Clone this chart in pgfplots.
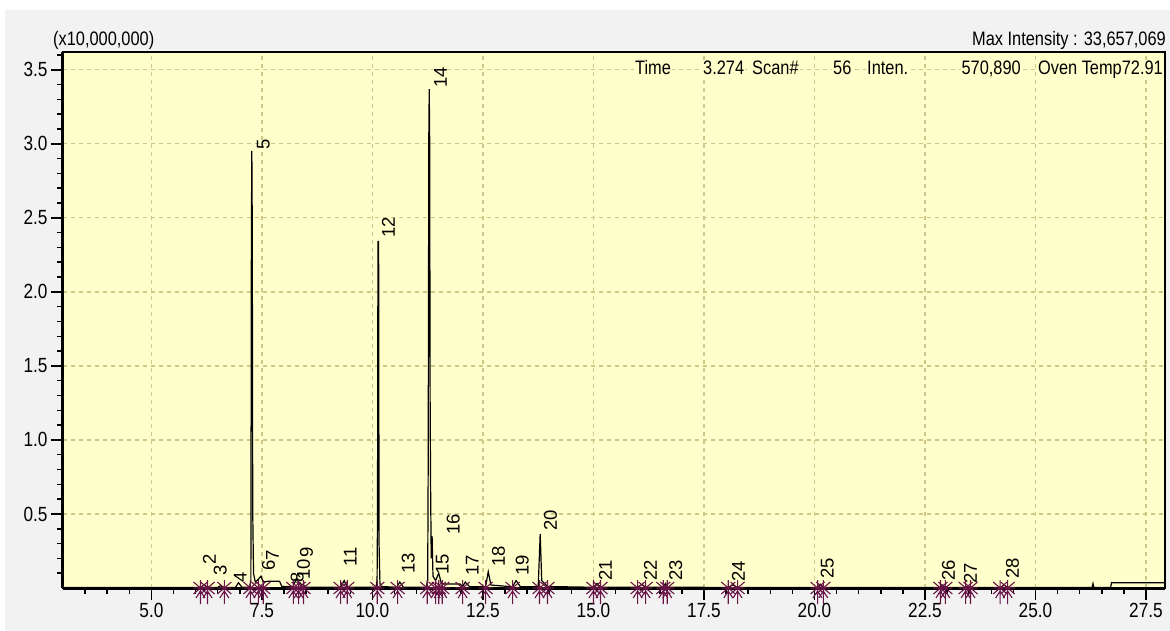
\documentclass[border=0pt]{standalone}
\usepackage{fontspec}
\setmainfont{Liberation Sans}[FakeStretch=0.84]
\newfontfamily\lblfont{Liberation Sans}
\usepackage{pgfplots}
\pgfplotsset{compat=1.18}
\definecolor{plotbg}{RGB}{255,255,204}
\definecolor{outerbg}{RGB}{242,242,242}
\definecolor{gridc}{RGB}{208,200,135}
\definecolor{mk}{RGB}{105,20,70}
\pgfdeclareplotmark{pk}{%
  \pgfpathmoveto{\pgfpoint{0bp}{-16bp}}\pgfpathlineto{\pgfpoint{0bp}{8bp}}%
  \pgfpathmoveto{\pgfpoint{-4.5bp}{-10bp}}\pgfpathlineto{\pgfpoint{0bp}{-3bp}}\pgfpathlineto{\pgfpoint{4.5bp}{-10bp}}%
  \pgfpathmoveto{\pgfpoint{-7bp}{-6bp}}\pgfpathlineto{\pgfpoint{7bp}{6bp}}%
  \pgfpathmoveto{\pgfpoint{-7bp}{6bp}}\pgfpathlineto{\pgfpoint{7bp}{-6bp}}%
  \pgfpathmoveto{\pgfpoint{-7bp}{0bp}}\pgfpathlineto{\pgfpoint{7bp}{0bp}}%
  \pgfusepathqstroke}
\begin{document}
\begin{tikzpicture}
\fill[white] (-63bp,-43bp) rectangle (1107bp,588bp);
\fill[outerbg] (-58bp,-43bp) rectangle (1107bp,578bp);
\begin{axis}[
  scale only axis, width=1102bp, height=536bp,
  xmin=3.0, xmax=27.93, ymin=0, ymax=3.62,
  clip=false,
  axis background/.style={fill=plotbg},
  xtick={5,7.5,...,27.5}, minor xtick={3.5,4,...,27.5},
  ytick={0.5,1,...,3.5}, minor ytick={0.1,0.2,...,3.6},
  tick pos=left, tick align=outside,
  major tick length=12bp, minor tick length=6bp,
  tick style={black, line width=1.5bp},
  grid=major,
  major grid style={gridc, line width=1.3bp, dash pattern=on 4bp off 4bp},
  axis line style={black, line width=1.5bp},
  /pgf/number format/assume math mode=true,
  /pgf/number format/fixed, /pgf/number format/fixed zerofill, /pgf/number format/precision=1,
  ticklabel style={font=\fontsize{20.5bp}{22bp}\selectfont},
]
\addplot[black, line width=1.2bp] coordinates {
(3.0,0.003)(6.05,0.003)(6.11,0.004)(6.2,0.02)(6.27,0.005)(6.4,0.004)
(6.5,0.004)(6.56,0.015)(6.65,0.004)
(6.9,0.004)(6.97,0.035)(7.05,0.005)
(7.22,0.005)(7.25,0.05)(7.262,2.43)(7.272,2.95)(7.282,2.43)(7.292,0.52)(7.31,0.1)(7.35,0.04)
(7.42,0.06)(7.48,0.08)(7.53,0.04)(7.62,0.045)(7.9,0.045)(7.95,0.01)
(8.2,0.01)(8.28,0.06)(8.36,0.03)(8.44,0.02)(8.5,0.006)
(9.28,0.006)(9.36,0.05)(9.43,0.006)
(10.08,0.006)(10.105,0.05)(10.115,0.5)(10.125,2.34)(10.14,2.34)(10.15,0.3)(10.17,0.03)(10.2,0.01)
(10.55,0.005)(10.62,0.04)(10.7,0.005)
(11.22,0.005)(11.25,0.05)(11.262,0.86)(11.275,3.03)(11.285,3.37)(11.295,3.03)(11.305,1.3)(11.315,0.72)(11.33,0.2)
(11.35,0.35)(11.37,0.08)(11.43,0.05)(11.5,0.1)(11.56,0.03)(11.6,0.027)(11.98,0.027)
(12.04,0.01)(12.1,0.04)(12.2,0.008)
(12.56,0.008)(12.62,0.11)(12.68,0.02)
(13.17,0.008)(13.25,0.05)(13.35,0.008)
(13.75,0.01)(13.785,0.28)(13.795,0.365)(13.805,0.28)(13.83,0.05)(13.96,0.01)
(15.0,0.005)(15.08,0.03)(15.16,0.005)
(16.0,0.005)(16.1,0.025)(16.18,0.005)
(16.58,0.005)(16.63,0.03)(16.67,0.005)
(18.05,0.004)(18.15,0.02)(18.26,0.004)
(20.07,0.004)(20.13,0.025)(20.2,0.004)
(22.85,0.004)(22.9,0.02)(22.96,0.004)
(23.42,0.004)(23.47,0.015)(23.53,0.004)
(24.2,0.004)(24.3,0.02)(24.37,0.004)
(26.28,0.004)(26.3,0.03)(26.32,0.004)
(26.7,0.004)(26.72,0.035)(27.93,0.035)
};
\draw[black, line width=3bp] (rel axis cs:0,0) -- (rel axis cs:1,0);
\draw[black, line width=3bp] (rel axis cs:0,0) -- (rel axis cs:0,1);
\addplot[only marks, mark=pk, mk, line width=1.1bp] coordinates {
(6.11,0)(6.27,0)(6.65,0)(7.24,0)(7.42,0)(7.53,0)(8.21,0)(8.33,0)(8.44,0)
(9.28,0)(9.43,0)(10.11,0)(10.57,0)(11.24,0)(11.43,0)(11.5,0)(11.58,0)
(12.04,0)(12.56,0)(13.17,0)(13.78,0)(13.96,0)(15.0,0)(15.16,0)(16.0,0)
(16.18,0)(16.58,0)(16.67,0)(18.05,0)(18.26,0)(20.07,0)(20.2,0)(22.85,0)
(22.96,0)(23.42,0)(23.53,0)(24.2,0)(24.37,0)
};
\tikzset{pl/.style={rotate=90, anchor=west, inner sep=1bp, font=\lblfont\fontsize{18.5bp}{18.5bp}\selectfont}}
\node[pl] at (axis cs:6.31,0.15) {2};
\node[pl] at (axis cs:6.56,0.075) {3};
\node[pl] at (axis cs:7.01,0.03) {4};
\node[pl] at (axis cs:7.53,2.95) {5};
\node[pl] at (axis cs:7.65,0.108) {6};
\node[pl] at (axis cs:7.74,0.176) {7};
\node[pl] at (axis cs:8.30,0.03) {8};
\node[pl] at (axis cs:8.51,0.196) {9};
\node[pl] at (axis cs:8.44,0.047) {10};
\node[pl] at (axis cs:9.50,0.14) {11};
\node[pl] at (axis cs:10.36,2.36) {12};
\node[pl] at (axis cs:10.81,0.088) {13};
\node[pl] at (axis cs:11.54,3.37) {14};
\node[pl] at (axis cs:11.58,0.08) {15};
\node[pl] at (axis cs:11.83,0.35) {16};
\node[pl] at (axis cs:12.26,0.075) {17};
\node[pl] at (axis cs:12.85,0.135) {18};
\node[pl] at (axis cs:13.39,0.075) {19};
\node[pl] at (axis cs:14.03,0.38) {20};
\node[pl] at (axis cs:15.27,0.04) {21};
\node[pl] at (axis cs:16.29,0.04) {22};
\node[pl] at (axis cs:16.86,0.04) {23};
\node[pl] at (axis cs:18.28,0.035) {24};
\node[pl] at (axis cs:20.29,0.055) {25};
\node[pl] at (axis cs:23.03,0.04) {26};
\node[pl] at (axis cs:23.53,0.02) {27};
\node[pl] at (axis cs:24.48,0.055) {28};
\end{axis}
\tikzset{hd/.style={inner sep=1bp, font=\fontsize{19.5bp}{21bp}\selectfont}}
\node[hd, anchor=base west] at (-11bp,542bp) {(x10,000,000)};
\node[hd, anchor=base east] at (1104bp,542bp) {Max Intensity : 33,657,069};
\tikzset{hr/.style={inner sep=1bp, fill=plotbg, font=\fontsize{19.5bp}{21bp}\selectfont}}
\node[hr, anchor=base west] at (571bp,513bp) {Time};
\node[hr, anchor=base west] at (639bp,513bp) {3.274};
\node[hr, anchor=base west] at (688bp,513bp) {Scan\#};
\node[hr, anchor=base west] at (769bp,513bp) {56};
\node[hr, anchor=base west] at (803bp,513bp) {Inten.};
\node[hr, anchor=base east] at (959bp,513bp) {570,890};
\node[hr, anchor=base east] at (1101bp,513bp) {Oven Temp72.91};
\end{tikzpicture}
\end{document}
